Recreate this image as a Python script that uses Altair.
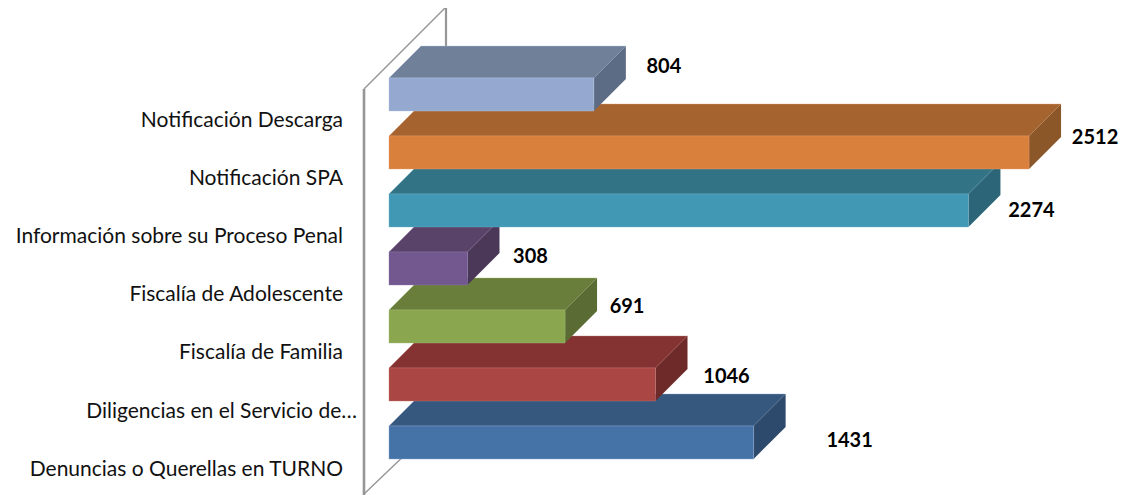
import altair as alt
import pandas as pd

# ---- chart data (bottom row first) ----
categories = ["Denuncias o Querellas en TURNO", "Diligencias en el Servicio de…", "Fiscalía de Familia",
              "Fiscalía de Adolescente", "Información sobre su Proceso Penal", "Notificación SPA", "Notificación Descarga"]
values = [1431, 1046, 691, 308, 2274, 2512, 804]
front_colors = ["#4572A7", "#AA4643", "#8AA750", "#72588F", "#4198B5", "#D9803C", "#95A9D0"]
top_colors = ["#36587F", "#843232", "#6A7E3C", "#5A4369", "#327386", "#A5642F", "#708099"]
side_colors = ["#2D4A6C", "#6D2A29", "#5A6B33", "#4B3859", "#2C6577", "#8B5628", "#5D6C85"]
edge_colors = ["#8FAAD0", "#C87A78", "#A5BE75", "#8F78AA", "#6FB4CC", "#EBA070", "#B4C4E0"]

# ---- layout: text placement in pixels relative to the plot ----
PX_PER_UNIT = 0.2548
PX_PER_ROW = 58.0
DEPTH_PX = 32.0
THICK_PX = 33.0
label_rows = [(459 - p) / PX_PER_ROW for p in [469.5, 412, 353, 295, 237, 179, 121]]
label_right = [343, 357, 343, 343, 343, 343, 343]
value_x_off = [96, 71, 62, 63, 63, 66, 70]
value_y_off = [-18.5, -24.5, -36.5, -28.5, -16.5, -31.5, -44.5]

W, H = 1111, 487
x_scale = alt.Scale(domain=[(0 - 381) / PX_PER_UNIT, (W - 381) / PX_PER_UNIT], range=[0, W], nice=False, zero=False)
y_scale = alt.Scale(domain=[(459 - 495) / PX_PER_ROW, (459 - 8) / PX_PER_ROW], range=[H, 0], nice=False, zero=False)
X = lambda f: alt.X(f"{f}:Q", scale=x_scale, axis=None)
Y = lambda f: alt.Y(f"{f}:Q", scale=y_scale, axis=None)

d = DEPTH_PX / PX_PER_UNIT
dr = DEPTH_PX / PX_PER_ROW
t = THICK_PX / PX_PER_ROW
px2x = lambda p: (p - 389) / PX_PER_UNIT
px2y = lambda p: (459 - p) / PX_PER_ROW

layers = []

# back wall of the 3-D plot
wall = [
    ([(364, 495), (364, 89)], 2.6),
    ([(364, 89), (446, 7)], 1.4),
    ([(446, 7), (446, 60)], 2.2),
    ([(364, 494), (410, 450)], 1.4),
]
for i, (pts, w) in enumerate(wall):
    df = pd.DataFrame({"x": [px2x(p[0]) for p in pts], "y": [px2y(p[1]) for p in pts], "o": [0, 1]})
    layers.append(alt.Chart(df).mark_line(color="#969696", strokeWidth=w).encode(x=X("x"), y=Y("y"), order="o:Q"))

# bars: lower rows are painted first
for i, v in enumerate(values):
    y0 = i
    top_df = pd.DataFrame({"y": [y0 + t, y0 + t + dr], "a": [0, d], "b": [v, v + d]})
    side_df = pd.DataFrame({"x": [v, v + d], "a": [y0, y0 + dr], "b": [y0 + t, y0 + t + dr]})
    front_df = pd.DataFrame({"a": [0], "b": [v], "c": [y0], "e": [y0 + t], "cat": [categories[i]]})
    layers.append(alt.Chart(top_df).mark_area(orient="horizontal", color=top_colors[i], line=False,
                                              stroke=edge_colors[i], strokeWidth=0.4)
                  .encode(y=Y("y"), x=X("a"), x2="b:Q"))
    layers.append(alt.Chart(side_df).mark_area(orient="vertical", color=side_colors[i])
                  .encode(x=X("x"), y=Y("a"), y2="b:Q"))
    layers.append(alt.Chart(front_df).mark_rect(color=front_colors[i], stroke=edge_colors[i], strokeWidth=0.4)
                  .encode(x=X("a"), x2="b:Q", y=Y("c"), y2="e:Q"))

# category labels
cat_df = pd.DataFrame({"x": [px2x(p) for p in label_right], "y": label_rows, "t": categories})
layers.append(alt.Chart(cat_df).mark_text(align="right", baseline="middle", font="Lato", fontSize=21, color="#111111")
              .encode(x=X("x"), y=Y("y"), text="t:N"))

# value labels
val_df = pd.DataFrame({
    "x": [v + o / PX_PER_UNIT for v, o in zip(values, value_x_off)],
    "y": [i + (-o) / PX_PER_ROW for i, o in enumerate(value_y_off)],
    "v": values,
})
layers.append(alt.Chart(val_df).mark_text(align="center", baseline="middle", font="Lato", fontWeight="bold",
                                          fontSize=20, color="#000000")
              .encode(x=X("x"), y=Y("y"), text="v:Q"))

chart = (alt.layer(*layers)
         .properties(width=W, height=H, padding=0, background="white", autosize=alt.AutoSizeParams(type="none"))
         .configure_view(stroke=None))
chart.save("out.html", embed_options={"renderer": "svg", "actions": False})
